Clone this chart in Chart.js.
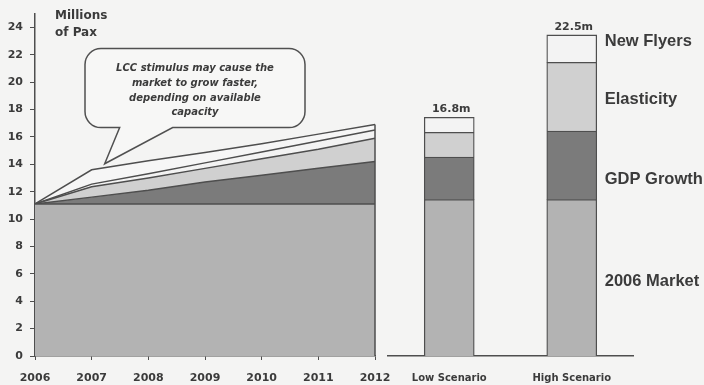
<!DOCTYPE html>
<html>
<head>
<meta charset="utf-8">
<title>Market growth scenarios</title>
<script src="https://cdn.jsdelivr.net/npm/chart.js@4.4.1/dist/chart.umd.min.js"></script>
<style>
  body { margin: 0; background: #f4f4f3; }
  #wrap { position: relative; width: 704px; height: 385px; }
  canvas { position: absolute; left: 0; top: 0; }
</style>
</head>
<body>
<div id="wrap">
  <canvas id="trendChart" width="704" height="385"></canvas>
  <canvas id="scenarioChart" width="704" height="385"></canvas>
</div>
<script>
// Trend 2006-2012, millions of pax (stacked increments)
const years = ["2006", "2007", "2008", "2009", "2010", "2011", "2012"];
const market = [11.1, 11.1, 11.1, 11.1, 11.1, 11.1, 11.1];
const gdpGrowth = [0, 0.5, 1.0, 1.6, 2.1, 2.6, 3.1];
const elasticity = [0, 0.75, 0.9, 1.0, 1.2, 1.4, 1.7];
const newFlyers = [0, 0.2, 0.3, 0.4, 0.5, 0.6, 0.6];
const lccStimulus = [0, 1.05, 0.95, 0.75, 0.6, 0.5, 0.4];

// Scenario bars
const scenarios = ["Low Scenario", "High Scenario"];
const scenarioMarket = [11.4, 11.4];
const scenarioGdp = [3.1, 5.0];
const scenarioElasticity = [1.8, 5.0];
const scenarioNewFlyers = [1.1, 2.0];
const scenarioTotals = ["16.8m", "22.5m"];
const segmentNames = ["2006 Market", "GDP Growth", "Elasticity", "New Flyers"];

const INK = "#3b3b3b";
const EDGE = "#4e4e4e";
const FILLS = ["#b3b3b3", "#7b7b7b", "#d0d0d0", "#f3f3f3", "#f6f6f6"];

Chart.defaults.font.family = "'DejaVu Sans', sans-serif";
Chart.defaults.color = INK;

function area(label, data, color, fill) {
  return {
    label, data, fill,
    backgroundColor: color,
    borderColor: EDGE,
    borderWidth: 1.5,
    pointRadius: 0,
    tension: 0,
  };
}

function bar(label, data, color) {
  return {
    label, data,
    backgroundColor: color,
    borderColor: EDGE,
    borderWidth: 1.3,
    barThickness: 50,
  };
}

// callout bubble, right edge of the area, axis caption
const trendDecor = {
  id: "trendDecor",
  afterDraw(chart) {
    const { ctx, chartArea: a, scales: { x, y } } = chart;
    const last = years.length - 1;
    const topAt = (i) => market[i] + gdpGrowth[i] + elasticity[i] + newFlyers[i] + lccStimulus[i];

    ctx.save();
    // closing edge of the stacked area
    ctx.strokeStyle = EDGE;
    ctx.lineWidth = 1.5;
    ctx.beginPath();
    ctx.moveTo(x.getPixelForValue(last), y.getPixelForValue(0));
    ctx.lineTo(x.getPixelForValue(last), y.getPixelForValue(topAt(last)));
    ctx.stroke();

    // axis caption
    ctx.font = "bold 12px 'DejaVu Sans'";
    ctx.fillStyle = INK;
    ctx.textBaseline = "middle";
    ctx.textAlign = "left";
    ctx.fillText("Millions", a.left + 20, 16);
    ctx.fillText("of Pax", a.left + 20, 33);

    // speech bubble pointing at 2007
    const tipX = x.getPixelForValue(1) + 13;
    const tipY = y.getPixelForValue(topAt(1)) - 6;
    const L = a.left + 50, R = a.left + 270, T = a.top + 35, B = a.top + 114, r = 16;
    ctx.beginPath();
    ctx.moveTo(L + r, T);
    ctx.arcTo(R, T, R, B, r);
    ctx.arcTo(R, B, L, B, r);
    ctx.lineTo(tipX + 68, B);
    ctx.lineTo(tipX, tipY);
    ctx.lineTo(tipX + 15, B);
    ctx.arcTo(L, B, L, T, r);
    ctx.arcTo(L, T, R, T, r);
    ctx.closePath();
    ctx.fillStyle = "#f7f7f6";
    ctx.fill();
    ctx.strokeStyle = "#505050";
    ctx.lineWidth = 1.5;
    ctx.stroke();

    ctx.fillStyle = INK;
    ctx.textAlign = "center";
    ctx.font = "italic bold 10px 'DejaVu Sans'";
    const lines = ["LCC stimulus may cause the", "market to grow faster,", "depending on available", "capacity"];
    lines.forEach((t, i) => ctx.fillText(t, (L + R) / 2, T + 20 + i * 14.7));
    ctx.restore();
  },
};

// segment names and totals for the scenario bars
const scenarioDecor = {
  id: "scenarioDecor",
  afterDraw(chart, args, opts) {
    const { ctx, scales: { y } } = chart;
    const topMeta = chart.getDatasetMeta(chart.data.datasets.length - 1);
    ctx.save();
    ctx.fillStyle = INK;
    ctx.textBaseline = "middle";

    ctx.font = "bold 11px 'DejaVu Sans'";
    ctx.textAlign = "center";
    topMeta.data.forEach((el, i) => {
      ctx.fillText(scenarioTotals[i], el.x + 2, el.y - 8);
    });

    const high = topMeta.data[1];
    ctx.font = "bold 16.5px 'Liberation Sans'";
    ctx.textAlign = "left";
    segmentNames.forEach((name, i) => {
      ctx.fillText(name, high.x + high.width / 2 + 8, y.getPixelForValue(opts.labelAt[i]));
    });
    ctx.restore();
  },
};

new Chart(document.getElementById("trendChart"), {
  type: "line",
  data: {
    labels: years,
    datasets: [
      area("2006 Market", market, FILLS[0], "origin"),
      area("GDP Growth", gdpGrowth, FILLS[1], "-1"),
      area("Elasticity", elasticity, FILLS[2], "-1"),
      area("New Flyers", newFlyers, FILLS[3], "-1"),
      area("LCC stimulus", lccStimulus, FILLS[4], "-1"),
    ],
  },
  options: {
    responsive: false,
    animation: false,
    layout: { padding: { top: 13, right: 329 } },
    plugins: { legend: { display: false }, tooltip: { enabled: false } },
    scales: {
      x: {
        grid: { drawOnChartArea: false, tickLength: 4, color: EDGE },
        border: { color: EDGE, width: 1.5 },
        ticks: { font: { weight: "bold", size: 11 }, padding: 12, maxRotation: 0, autoSkip: false },
        afterFit: (s) => { s.height = 29; },
      },
      y: {
        stacked: true,
        min: 0,
        max: 25,
        grid: { drawOnChartArea: false, tickLength: 5, color: EDGE },
        border: { color: EDGE, width: 1.5 },
        ticks: { stepSize: 2, font: { weight: "bold", size: 11 }, padding: 7 },
        afterBuildTicks: (s) => { s.ticks = s.ticks.filter((t) => t.value % 2 === 0); },
        afterFit: (s) => { s.width = 35; },
      },
    },
  },
  plugins: [trendDecor],
});

new Chart(document.getElementById("scenarioChart"), {
  type: "bar",
  data: {
    labels: scenarios,
    datasets: [
      bar("2006 Market", scenarioMarket, FILLS[0]),
      bar("GDP Growth", scenarioGdp, FILLS[1]),
      bar("Elasticity", scenarioElasticity, FILLS[2]),
      bar("New Flyers", scenarioNewFlyers, FILLS[3]),
    ],
  },
  options: {
    responsive: false,
    animation: false,
    layout: { padding: { left: 388, right: 71, top: 13 } },
    plugins: {
      legend: { display: false },
      tooltip: { enabled: false },
      scenarioDecor: { labelAt: [5.4, 12.9, 18.7, 22.9] },
    },
    scales: {
      x: {
        stacked: true,
        grid: { display: false },
        border: { color: EDGE, width: 1.5 },
        ticks: { font: { weight: "bold", size: 10 }, padding: 8 },
        afterFit: (s) => { s.height = 29; },
      },
      y: { stacked: true, display: false, min: 0, max: 25 },
    },
  },
  plugins: [scenarioDecor],
});
</script>
</body>
</html>
